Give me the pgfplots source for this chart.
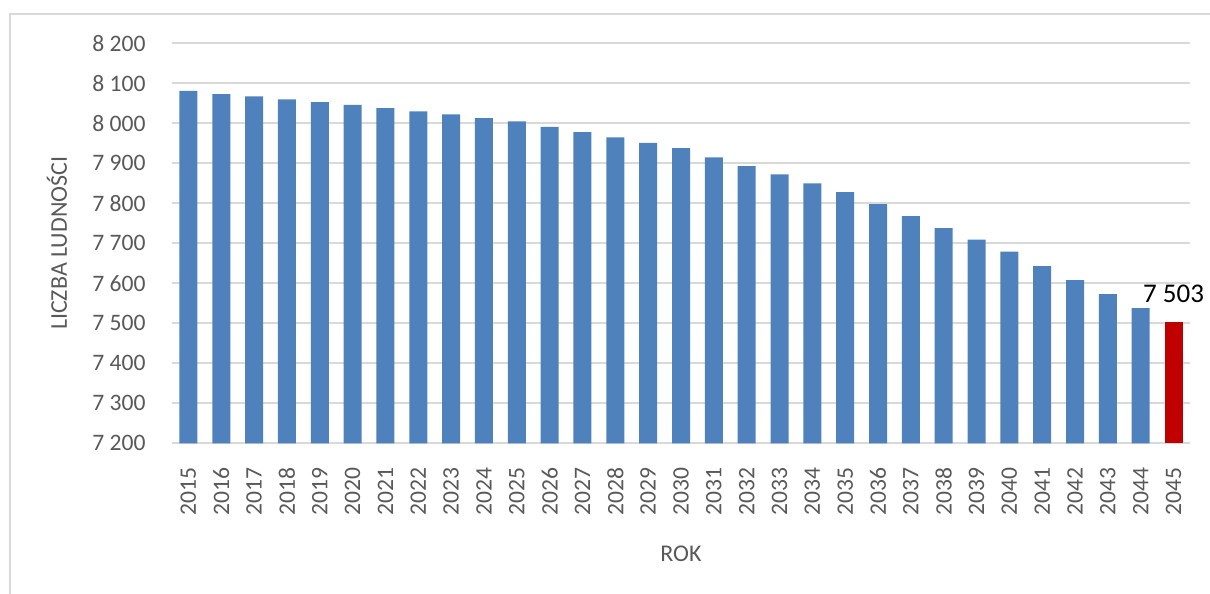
\documentclass[border=0pt]{standalone}
\usepackage{fontspec}
\setmainfont{Carlito}
\usepackage{pgfplots}
\pgfplotsset{compat=1.18}
\definecolor{barblue}{HTML}{4F81BD}
\definecolor{barred}{HTML}{C00000}
\definecolor{txtgray}{HTML}{595959}
\definecolor{gridgray}{HTML}{D9D9D9}
\begin{document}
\begin{tikzpicture}
\useasboundingbox (-86pt,-75.35pt) rectangle (519pt,221.65pt);
\draw[gridgray, line width=1pt] (-81pt,-80pt) -- (-81pt,214.65pt) -- (525pt,214.65pt);
\begin{axis}[
  at={(0,0)}, anchor=south west,
  width=509pt, height=200pt, scale only axis,
  xmin=2014.5, xmax=2045.5, ymin=7200, ymax=8200,
  ytick={7200,7300,...,8200},
  xtick={2015,2016,...,2045},
  scaled y ticks=false,
  major tick length=0pt,
  axis line style={draw=none},
  ymajorgrids,
  grid style={gridgray, line width=0.9pt},
  /pgf/number format/assume math mode=true,
  ticklabel style={font=\fontsize{11.8}{14}\selectfont, text=txtgray},
  yticklabel style={anchor=east, xshift=-9.7pt, /pgf/number format/1000 sep={\ }},
  xticklabel style={rotate=90, anchor=east, xshift=-8.7pt, /pgf/number format/1000 sep={}},
  xlabel={ROK},
  ylabel={LICZBA LUDNOŚCI},
  label style={font=\fontsize{12}{14.4}\selectfont, text=txtgray},
  xlabel style={at={(axis description cs:0.5,0)}, anchor=center, yshift=-55pt},
  ylabel style={at={(axis description cs:0,0.5)}, anchor=center, yshift=57.5pt},
  ybar, bar width=9pt, bar shift=0pt,
  clip=true,
]
\addplot[fill=barblue, draw=none] coordinates {
(2015,8081) (2016,8073) (2017,8067) (2018,8060) (2019,8053)
(2020,8046) (2021,8038) (2022,8030) (2023,8022) (2024,8013)
(2025,8005) (2026,7991) (2027,7978) (2028,7965) (2029,7951)
(2030,7938) (2031,7915) (2032,7893) (2033,7872) (2034,7850)
(2035,7828) (2036,7798) (2037,7768) (2038,7738) (2039,7709)
(2040,7679) (2041,7643) (2042,7608) (2043,7573) (2044,7538)
};
\addplot[fill=barred, draw=none,
  nodes near coords={7 503},
  every node near coord/.append style={font=\fontsize{13.5}{16}\selectfont, text=black, yshift=6pt}]
  coordinates {(2045,7503)};
\end{axis}
\end{tikzpicture}
\end{document}
